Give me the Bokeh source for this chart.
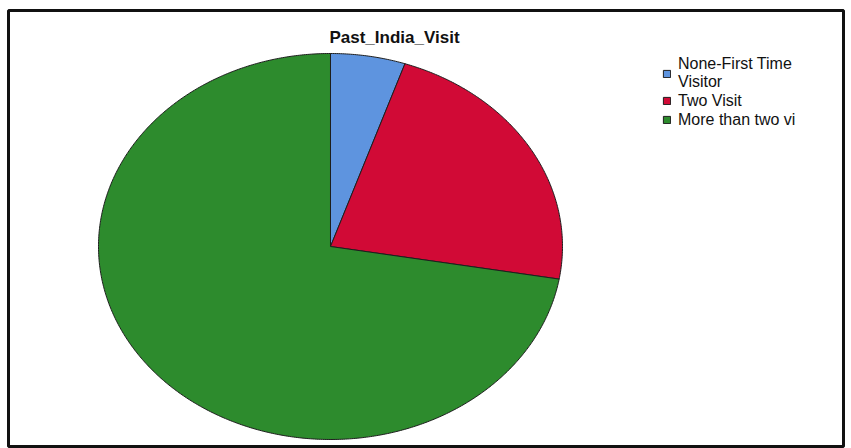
import numpy as np
from bokeh.plotting import figure
from bokeh.models import Range1d, ColumnDataSource, Legend, LegendItem, Label
from bokeh.embed import file_html
from bokeh.resources import INLINE

# ---- data ----
title_text = "Past_India_Visit"
categories = ["None-First Time\nVisitor", "Two Visit", "More than two vi"]
percentages = [5.2, 22.5, 72.3]
colors = ["#5e94df", "#d10a36", "#2d8b2d"]

# ---- layout ----
W, H = 851, 448
p = figure(width=W, height=H, output_backend="svg", toolbar_location=None,
           x_range=Range1d(-1.3879, 2.2112), y_range=Range1d(-1.0363, 1.2228),
           x_axis_location=None, y_axis_location=None)
p.min_border = 0
p.min_border_left = 8
p.min_border_right = 8
p.min_border_top = 10
p.min_border_bottom = 2
p.grid.visible = False
p.outline_line_color = "#111111"
p.outline_line_width = 3
p.background_fill_color = "white"
p.border_fill_color = "white"

# ---- pie slices (unit circle, ellipse by unequal scales), clockwise from 12 o'clock ----
vals = np.array(percentages, dtype=float)
fr = vals / vals.sum()
cum = np.concatenate([[0.0], np.cumsum(fr)])
xs, ys = [], []
for i in range(len(vals)):
    a0 = np.pi / 2 - 2 * np.pi * cum[i]
    a1 = np.pi / 2 - 2 * np.pi * cum[i + 1]
    n = max(4, int(abs(a1 - a0) * 120))
    t = np.linspace(a0, a1, n)
    xs.append([0.0] + list(np.cos(t)) + [0.0])
    ys.append([0.0] + list(np.sin(t)) + [0.0])

src = ColumnDataSource(dict(xs=xs, ys=ys, color=colors, label=categories))
r = p.patches("xs", "ys", source=src, fill_color="color", line_color="#1e1e1e",
              line_width=1)

items = [LegendItem(label=categories[i], renderers=[r], index=i) for i in range(len(categories))]
legend = Legend(items=items, location=(654, 317), orientation="vertical",
                padding=0, margin=0, spacing=0, border_line_color=None,
                background_fill_alpha=0, glyph_width=9, glyph_height=9,
                label_standoff=7, label_height=19,
                label_text_font="Liberation Sans", label_text_font_size="16px",
                label_text_line_height=1.1, label_text_color="#111111")
p.add_layout(legend, "center")

title = Label(x=386, y=409, x_units="screen", y_units="screen", text=title_text,
              text_align="center", text_baseline="alphabetic",
              text_font="Liberation Sans", text_font_style="bold",
              text_font_size="17px", text_color="#111111")
p.add_layout(title)

open("out.html", "w").write(file_html(p, INLINE))
